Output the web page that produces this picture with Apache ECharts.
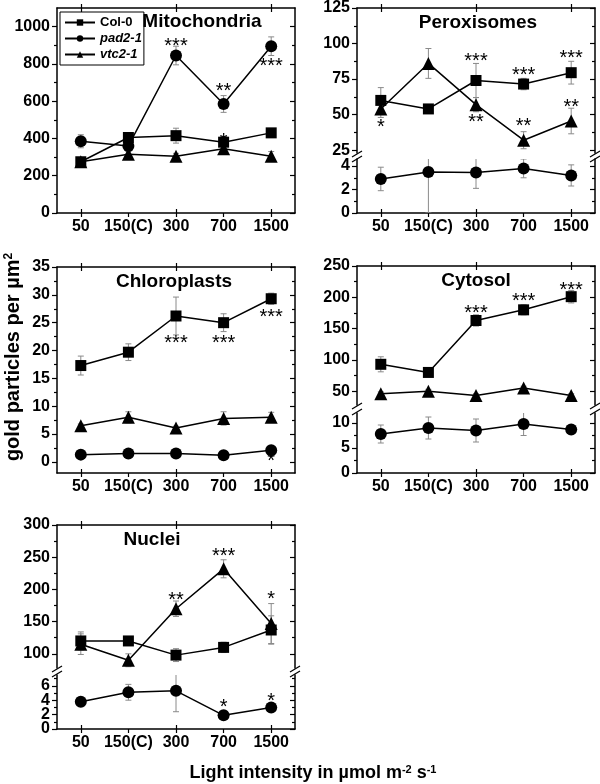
<!DOCTYPE html>
<html><head><meta charset="utf-8">
<script src="https://cdn.jsdelivr.net/npm/echarts@6/dist/echarts.min.js"></script>
<style>html,body{margin:0;padding:0;background:#fff}#c{width:600px;height:784px}</style>
</head><body><div id="c"></div><script>
const categories = ['50', '150(C)', '300', '700', '1500'];
const seriesNames = ['Col-0', 'pad2-1', 'vtc2-1'];

// Mitochondria
const mitoCol0 = [275, 405, 415, 380, 430];
const mitoCol0Err = [20, 25, 40, 30, 15];
const mitoPad2 = [385, 360, 845, 585, 895];
const mitoPad2Err = [35, 30, 50, 45, 50];
const mitoVtc2 = [275, 315, 305, 345, 305];
const mitoVtc2Err = [15, 20, 15, 15, 25];
const mitoStars = [[2, 915, '***'], [3, 672, '**'], [4, 806, '***'], [3, 405, '*']];

// Peroxisomes
const peroxCol0 = [60, 54, 74, 71.5, 79.5];
const peroxCol0Err = [9, 3, 12, 4, 8];
const peroxPad2 = [2.9, 3.5, 3.45, 3.8, 3.2];
const peroxPad2Err = [1.0, 3.5, 1.35, 0.8, 0.9];
const peroxVtc2 = [54, 86, 57, 32, 45.5];
const peroxVtc2Err = [6, 10.5, 5, 6, 9];
const peroxStarsUpper = [[0, 43.8, '*'], [2, 90, '***'], [2, 47, '**'], [3, 80.6, '***'], [3, 44.7, '**'], [4, 92, '***'], [4, 58, '**']];

// Chloroplasts
const chloCol0 = [17.3, 19.7, 26.2, 25.0, 29.3];
const chloCol0Err = [1.7, 1.5, 3.4, 1.6, 1.0];
const chloPad2 = [1.3, 1.5, 1.5, 1.2, 2.1];
const chloPad2Err = [0.2, 0.2, 0.2, 0.2, 0.3];
const chloVtc2 = [6.5, 8.0, 6.1, 7.8, 8.0];
const chloVtc2Err = [0.3, 1.0, 0.3, 1.2, 0.9];
const chloStars = [[2, 21.9, '***'], [3, 21.9, '***'], [4, 26.7, '***'], [4, 0.7, '*']];

// Cytosol
const cytoCol0 = [93, 80, 163, 180, 201];
const cytoCol0Err = [12, 4, 9, 8, 10];
const cytoPad2 = [7.8, 9.0, 8.5, 9.8, 8.7];
const cytoPad2Err = [1.8, 2.2, 2.3, 2.3, 0.8];
const cytoVtc2 = [46, 50, 43, 55, 43];
const cytoVtc2Err = [3, 3, 3, 3, 3];
const cytoStarsUpper = [[2, 180, '***'], [3, 200, '***'], [4, 218, '***']];

// Nuclei
const nucCol0 = [120, 120, 98, 110, 137];
const nucCol0Err = [14, 5, 10, 8, 22];
const nucPad2 = [3.8, 5.1, 5.3, 1.9, 3.0];
const nucPad2Err = [0.1, 1.1, 2.9, 0.1, 0.1];
const nucVtc2 = [115, 90, 170, 232, 147];
const nucVtc2Err = [16, 10, 12, 14, 31];
const nucStarsUpper = [[2, 189, '**'], [3, 257, '***'], [4, 190, '*']];
const nucStarsLower = [[3, 3.5, '*'], [4, 4.4, '*']];

// Tick values
const mitoTicks = [0, 200, 400, 600, 800, 1000];
const mitoMinor = [100, 300, 500, 700, 900];
const peroxUpperTicks = [25, 50, 75, 100, 125];
const peroxUpperMinor = [37.5, 62.5, 87.5, 112.5];
const peroxLowerTicks = [0, 2, 4];
const peroxLowerMinor = [1, 3];
const chloTicks = [0, 5, 10, 15, 20, 25, 30, 35];
const chloMinor = [2.5, 7.5, 12.5, 17.5, 22.5, 27.5, 32.5];
const cytoUpperTicks = [50, 100, 150, 200, 250];
const cytoUpperMinor = [75, 125, 175, 225];
const cytoLowerTicks = [0, 5, 10];
const cytoLowerMinor = [2.5, 7.5];
const nucUpperTicks = [100, 150, 200, 250, 300];
const nucUpperMinor = [125, 175, 225, 275];
const nucLowerTicks = [0, 2, 4, 6];
const nucLowerMinor = [1, 3, 5, 7];

const FONT = 'Liberation Sans, Arial, sans-serif';
const symbols = { 'Col-0': ['rect', 11], 'pad2-1': ['circle', 12], 'vtc2-1': ['triangle', 13] };

// segments (layout)
const segments = [
  { grid: { left: 57, top: 8, width: 238, height: 205 }, min: 0, max: 1100, ticks: mitoTicks, minor: mitoMinor, bottom: true, top: true,
    lines: [['Col-0', mitoCol0, mitoCol0Err], ['pad2-1', mitoPad2, mitoPad2Err], ['vtc2-1', mitoVtc2, mitoVtc2Err]], stars: mitoStars },
  { grid: { left: 357, top: 7, width: 238, height: 146 }, min: 23, max: 125, ticks: peroxUpperTicks, minor: peroxUpperMinor, bottom: false, top: true,
    lines: [['Col-0', peroxCol0, peroxCol0Err], ['vtc2-1', peroxVtc2, peroxVtc2Err]], stars: peroxStarsUpper },
  { grid: { left: 357, top: 159, width: 238, height: 54 }, min: 0, max: 4.6, ticks: peroxLowerTicks, minor: peroxLowerMinor, bottom: true, top: false,
    lines: [['pad2-1', peroxPad2, peroxPad2Err]], stars: [] },
  { grid: { left: 57, top: 267, width: 238, height: 206 }, min: -2, max: 35, ticks: chloTicks, minor: chloMinor, bottom: true, top: true,
    lines: [['Col-0', chloCol0, chloCol0Err], ['pad2-1', chloPad2, chloPad2Err], ['vtc2-1', chloVtc2, chloVtc2Err]], stars: chloStars },
  { grid: { left: 357, top: 266, width: 238, height: 139 }, min: 28, max: 250, ticks: cytoUpperTicks, minor: cytoUpperMinor, bottom: false, top: true,
    lines: [['Col-0', cytoCol0, cytoCol0Err], ['vtc2-1', cytoVtc2, cytoVtc2Err]], stars: cytoStarsUpper },
  { grid: { left: 357, top: 413, width: 238, height: 60 }, min: 0, max: 12, ticks: cytoLowerTicks, minor: cytoLowerMinor, bottom: true, top: false,
    lines: [['pad2-1', cytoPad2, cytoPad2Err]], stars: [] },
  { grid: { left: 57, top: 525, width: 238, height: 143 }, min: 78, max: 300, ticks: nucUpperTicks, minor: nucUpperMinor, bottom: false, top: true,
    lines: [['Col-0', nucCol0, nucCol0Err], ['vtc2-1', nucVtc2, nucVtc2Err]], stars: nucStarsUpper },
  { grid: { left: 57, top: 675, width: 238, height: 54 }, min: 0, max: 7.5, ticks: nucLowerTicks, minor: nucLowerMinor, bottom: true, top: false,
    lines: [['pad2-1', nucPad2, nucPad2Err]], stars: nucStarsLower }
];

const axisLineStyle = { color: '#000', width: 1.5 };
const tickStyle = { color: '#000', width: 1.2 };
const grids = [], xAxes = [], yAxes = [], series = [];

function catAxis(g, pos, opts) {
  return Object.assign({
    gridIndex: g, type: 'category', data: categories, position: pos, boundaryGap: true,
    axisLine: { show: false, onZero: false, lineStyle: axisLineStyle },
    axisTick: { show: false }, axisLabel: { show: false }, splitLine: { show: false }
  }, opts);
}
function valAxis(g, seg, pos, opts) {
  return Object.assign({
    gridIndex: g, type: 'value', min: seg.min, max: seg.max, position: pos,
    axisLine: { show: false, onZero: false, lineStyle: axisLineStyle },
    axisTick: { show: false }, axisLabel: { show: false }, splitLine: { show: false }, minorTick: { show: false }
  }, opts);
}
function labelOpts(vals) {
  return { show: true, margin: 7, customValues: vals, hideOverlap: false, showMinLabel: true, showMaxLabel: true,
    formatter: v => String(v), fontSize: 16, fontWeight: 'bold', color: '#000', fontFamily: FONT };
}

segments.forEach((seg, g) => {
  grids.push(Object.assign({ containLabel: false }, seg.grid));
  const xMain = xAxes.length;
  xAxes.push(catAxis(g, 'bottom', seg.bottom ? {
    axisLine: { show: true, onZero: false, lineStyle: axisLineStyle },
    axisTick: { show: true, alignWithLabel: true, length: 4, lineStyle: tickStyle },
    axisLabel: { show: true, interval: 0, hideOverlap: false, margin: 6, fontSize: 16, fontWeight: 'bold', color: '#000', fontFamily: FONT }
  } : {}));
  if (seg.bottom) {
    xAxes.push(catAxis(g, 'bottom', { axisTick: { show: true, inside: true, alignWithLabel: true, length: 4, lineStyle: tickStyle } }));
  }
  if (seg.top) {
    xAxes.push(catAxis(g, 'top', {
      axisLine: { show: true, onZero: false, lineStyle: axisLineStyle },
      axisTick: { show: true, alignWithLabel: true, length: 4, lineStyle: tickStyle }
    }));
    xAxes.push(catAxis(g, 'top', { axisTick: { show: true, inside: true, alignWithLabel: true, length: 4, lineStyle: tickStyle } }));
  }
  const evenTicks = seg.ticks.filter((v, i) => i % 2 === 0);
  const oddTicks = seg.ticks.filter((v, i) => i % 2 === 1);
  const yMain = yAxes.length;
  yAxes.push(valAxis(g, seg, 'left', {
    axisLine: { show: true, onZero: false, lineStyle: axisLineStyle },
    axisTick: { show: true, length: 5, customValues: seg.ticks, lineStyle: tickStyle },
    axisLabel: labelOpts(evenTicks)
  }));
  if (oddTicks.length) {
    yAxes.push(valAxis(g, seg, 'left', { axisLabel: labelOpts(oddTicks) }));
  }
  yAxes.push(valAxis(g, seg, 'left', { axisTick: { show: true, length: 3, customValues: seg.minor, lineStyle: tickStyle } }));
  yAxes.push(valAxis(g, seg, 'right', {
    axisLine: { show: true, onZero: false, lineStyle: axisLineStyle },
    axisTick: { show: true, inside: true, length: 5, customValues: seg.ticks, lineStyle: tickStyle }
  }));
  yAxes.push(valAxis(g, seg, 'right', { axisTick: { show: true, inside: true, length: 3, customValues: seg.minor, lineStyle: tickStyle } }));

  seg.lines.forEach(([name, vals, errs]) => {
    series.push({
      type: 'custom', name: name + ' err', xAxisIndex: xMain, yAxisIndex: yMain, z: 1, silent: true, clip: true,
      data: vals.map((v, i) => [i, v, errs[i]]),
      renderItem: (params, api) => {
        const x = api.value(0), v = api.value(1), e = api.value(2);
        const t = api.coord([x, v + e]), b = api.coord([x, v - e]);
        const c = 3, st = { stroke: '#8a8a8a', lineWidth: 1 };
        return { type: 'group', children: [
          { type: 'line', shape: { x1: t[0], y1: t[1], x2: b[0], y2: b[1] }, style: st },
          { type: 'line', shape: { x1: t[0] - c, y1: t[1], x2: t[0] + c, y2: t[1] }, style: st },
          { type: 'line', shape: { x1: b[0] - c, y1: b[1], x2: b[0] + c, y2: b[1] }, style: st }
        ] };
      }
    });
  });
  seg.lines.forEach(([name, vals]) => {
    series.push({
      type: 'line', name: name, xAxisIndex: xMain, yAxisIndex: yMain, data: vals, z: 3,
      symbol: symbols[name][0], symbolSize: symbols[name][1], showSymbol: true,
      lineStyle: { color: '#000', width: 1.5 }, itemStyle: { color: '#000' }, emphasis: { disabled: true }
    });
  });
  if (seg.stars.length) {
    const st = seg.stars;
    series.push({
      type: 'custom', name: 'stars', xAxisIndex: xMain, yAxisIndex: yMain, z: 4, silent: true,
      data: st.map(s => [s[0], s[1]]),
      renderItem: (params, api) => {
        const p = api.coord([api.value(0), api.value(1)]);
        return { type: 'text', x: p[0], y: p[1] + 4, style: { text: st[params.dataIndex][2], fontSize: 20, fontFamily: FONT, fill: '#000', align: 'center', verticalAlign: 'middle' } };
      }
    });
  }
});

function titleText(text, x, y) {
  return { type: 'text', x: x, y: y, style: { text: text, fontSize: 19, fontWeight: 'bold', fontFamily: FONT, fill: '#000', align: 'center', verticalAlign: 'middle' } };
}
function breakMarks(x, y1, y2) {
  const st = { stroke: '#000', lineWidth: 1.2 };
  return [
    { type: 'line', shape: { x1: x - 5, y1: y1 + 3, x2: x + 5, y2: y1 - 3 }, style: st },
    { type: 'line', shape: { x1: x - 5, y1: y2 + 3, x2: x + 5, y2: y2 - 3 }, style: st }
  ];
}

const graphics = [
  titleText('Mitochondria', 202, 22),
  titleText('Peroxisomes', 478, 23),
  titleText('Chloroplasts', 174, 282),
  titleText('Cytosol', 476, 281),
  titleText('Nuclei', 152, 540),
  { type: 'text', x: 13, y: 357, rotation: Math.PI / 2,
    style: { text: 'gold particles per µm{s|2}', fontSize: 20, fontWeight: 'bold', fontFamily: FONT, fill: '#000', align: 'center', verticalAlign: 'middle',
      rich: { s: { fontSize: 12, fontWeight: 'bold', fontFamily: FONT, verticalAlign: 'top' } } } },
  { type: 'text', x: 313, y: 773,
    style: { text: 'Light intensity in µmol m{s|-2} s{s|-1}', fontSize: 18, fontWeight: 'bold', fontFamily: FONT, fill: '#000', align: 'center', verticalAlign: 'middle',
      rich: { s: { fontSize: 11, fontWeight: 'bold', fontFamily: FONT, verticalAlign: 'top' } } } }
].concat(breakMarks(357, 154, 159), breakMarks(595, 154, 159),
         breakMarks(357, 406, 412), breakMarks(595, 406, 412),
         breakMarks(57, 669, 674), breakMarks(295, 669, 674));

const chart = echarts.init(document.getElementById('c'), null, { renderer: 'canvas' });
chart.setOption({
  animation: false,
  backgroundColor: '#fff',
  grid: grids, xAxis: xAxes, yAxis: yAxes, series: series,
  legend: {
    data: seriesNames, orient: 'vertical', left: 60, top: 12, itemWidth: 30, itemHeight: 8, itemGap: 3,
    padding: [4, 2, 4, 4], borderColor: '#000', borderWidth: 1, selectedMode: false,
    formatter: n => n === 'Col-0' ? n : '{i|' + n + '}',
    textStyle: { fontSize: 13, fontWeight: 'bold', fontFamily: FONT, color: '#000',
      rich: { i: { fontSize: 13, fontWeight: 'bold', fontStyle: 'italic', fontFamily: FONT, color: '#000' } } }
  },
  graphic: graphics
});
</script></body></html>
